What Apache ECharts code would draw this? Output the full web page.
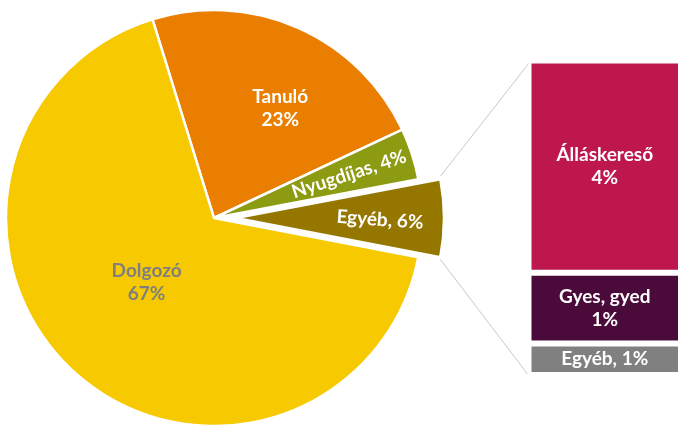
<!DOCTYPE html>
<html>
<head>
<meta charset="utf-8">
<script src="https://cdn.jsdelivr.net/npm/echarts@6/dist/echarts.min.js"></script>
</head>
<body style="margin:0;background:#fff">
<div id="chart" style="width:681px;height:425px"></div>
<script>
// main pie
const pieNames = ['Tanuló', 'Nyugdíjas', 'Egyéb', 'Dolgozó'];
const pieValues = [22.8, 4.0, 6.0, 67.2];
const pieColors = ['#E97E00', '#8C9B12', '#957700', '#F6C900'];
// breakdown of the exploded "Egyéb" slice, bottom to top
const barNames = ['Egyéb', 'Gyes, gyed', 'Álláskereső'];
const barValues = [0.6, 1.35, 4.05];
const barColors = ['#808080', '#4A0B3B', '#BE174E'];

const W = 681, H = 425;
const CX = 214, CY = 218, R = 208, START = 107.2, EXPLODE = 22;
const GRID_LEFT = 528.5, GRID_WIDTH = 154, GRID_TOP = 60.5, GRID_BOTTOM = 50;
const FONT = 'Lato, "Open Sans", sans-serif';

// label tweaks: [dx, dy, rotate, separator]
const pieLabelTweak = [
  [23, -12, 0, '\n'],
  [35, 0, 18, ', '],
  [37, -1, -4, ', '],
  [4, -15, 0, '\n']
];
const barLabelSep = [', ', '\n', '\n'];

const pieData = pieNames.map((name, i) => ({
  name,
  value: pieValues[i],
  selected: i === 2,
  itemStyle: {color: pieColors[i]},
  label: {
    rotate: pieLabelTweak[i][2],
    color: i === 3 ? '#7F7F7F' : '#fff'
  }
}));

const barSeries = barNames.map((name, i) => ({
  name,
  type: 'bar',
  stack: 'total',
  barWidth: '100%',
  barCategoryGap: '0%',
  data: [barValues[i]],
  itemStyle: {color: barColors[i], borderColor: '#fff', borderWidth: 3},
  label: {
    show: true,
    position: 'inside',
    color: '#fff',
    fontFamily: FONT,
    fontWeight: 'bold',
    fontSize: 19,
    lineHeight: 23,
    formatter: p => p.seriesName + barLabelSep[i] + Math.round(p.value) + '%'
  },
  emphasis: {disabled: true}
}));

// connector lines from the exploded slice corners to the bar corners
const total = pieValues.reduce((a, b) => a + b, 0);
const before = pieValues[0] + pieValues[1];
const a0 = (START - before / total * 360) * Math.PI / 180;
const a1 = (START - (before + pieValues[2]) / total * 360) * Math.PI / 180;
const mid = (a0 + a1) / 2;
const ox = CX + EXPLODE * Math.cos(mid), oy = CY - EXPLODE * Math.sin(mid);
const lineStyle = {stroke: '#C8C8C8', lineWidth: 1};

const chart = echarts.init(document.getElementById('chart'));
chart.setOption({
  animation: false,
  grid: {left: GRID_LEFT, width: GRID_WIDTH, top: GRID_TOP, bottom: GRID_BOTTOM},
  xAxis: {type: 'category', data: [''], show: false},
  yAxis: {type: 'value', min: 0, max: barValues.reduce((a, b) => a + b, 0), show: false},
  graphic: [
    {type: 'line', silent: true, style: lineStyle,
      shape: {x1: ox + R * Math.cos(a0), y1: oy - R * Math.sin(a0) - 3, x2: GRID_LEFT + 1, y2: GRID_TOP + 2}},
    {type: 'line', silent: true, style: lineStyle,
      shape: {x1: ox + R * Math.cos(a1), y1: oy - R * Math.sin(a1) + 2, x2: GRID_LEFT - 1, y2: H - GRID_BOTTOM - 1}}
  ],
  series: [
    {
      type: 'pie',
      center: [CX, CY],
      radius: R,
      startAngle: START,
      clockwise: true,
      selectedMode: 'single',
      selectedOffset: EXPLODE,
      avoidLabelOverlap: false,
      data: pieData,
      itemStyle: {borderColor: '#fff', borderWidth: 2.5},
      select: {itemStyle: {borderColor: '#fff', borderWidth: 2.5}, label: {color: '#fff'}},
      emphasis: {disabled: true},
      label: {
        show: true,
        position: 'inside',
        overflow: 'none',
        fontFamily: FONT,
        fontWeight: 'bold',
        fontSize: 19,
        lineHeight: 23,
        formatter: p => p.name + pieLabelTweak[p.dataIndex][3] + Math.round(p.value) + '%'
      },
      labelLine: {show: false},
      labelLayout: p => ({dx: pieLabelTweak[p.dataIndex][0], dy: pieLabelTweak[p.dataIndex][1]})
    },
    ...barSeries
  ]
});
</script>
</body>
</html>
